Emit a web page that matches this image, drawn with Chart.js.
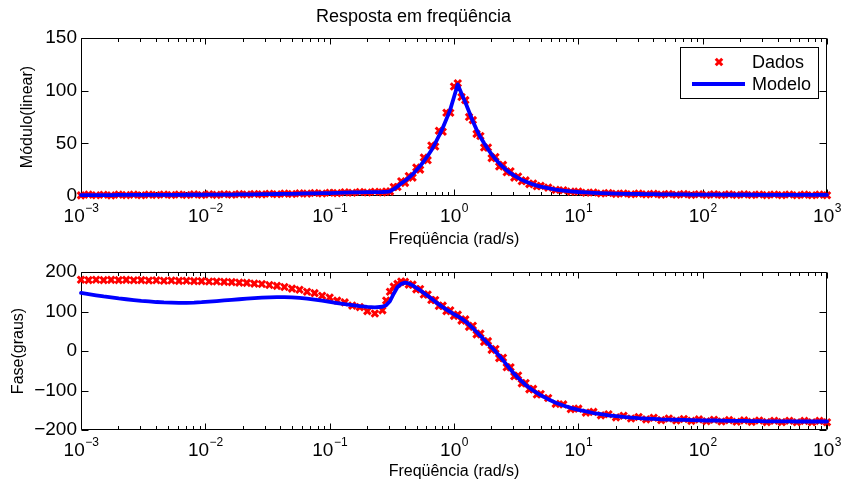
<!DOCTYPE html>
<html lang="pt">
<head>
<meta charset="utf-8">
<title>Resposta em freqüência</title>
<script src="https://cdn.jsdelivr.net/npm/chart.js@4.4.1/dist/chart.umd.min.js"></script>
<style>
  html, body { margin: 0; padding: 0; background: #fff; }
  #wrap { position: relative; width: 841px; height: 486px; overflow: hidden; background: #fff; }
  #boxModulo { position: absolute; left: 0; top: 0; width: 841px; height: 252px; }
  #boxFase { position: absolute; left: 0; top: 252px; width: 841px; height: 234px; }
  canvas { display: block; }
</style>
</head>
<body>
<div id="wrap">
  <div id="boxModulo"><canvas id="modulo" width="841" height="252"></canvas></div>
  <div id="boxFase"><canvas id="fase" width="841" height="234"></canvas></div>
</div>
<script>
// Frequências (rad/s): grade logarítmica, mais densa perto da ressonância
const freq = [
  0.001, 0.00115, 0.001322, 0.00152, 0.001748, 0.002009, 0.00231, 0.002656, 0.003054, 0.003511,
  0.004037, 0.004642, 0.005337, 0.006136, 0.007055, 0.008111, 0.009326, 0.01072, 0.01233, 0.01417,
  0.0163, 0.01874, 0.02154, 0.02477, 0.02848, 0.03275, 0.03765, 0.04329, 0.04977, 0.05722,
  0.06579, 0.07565, 0.08697, 0.1, 0.115, 0.1322, 0.152, 0.1748, 0.2009, 0.231, 0.2656,
  0.2848, 0.3054, 0.3275, 0.3511, 0.3765, 0.4037, 0.4329, 0.4642, 0.4977, 0.5337,
  0.5722, 0.6136, 0.6579, 0.7055, 0.7565, 0.8111, 0.8697, 0.9326, 1.0, 1.072,
  1.15, 1.233, 1.322, 1.417, 1.52, 1.63, 1.748, 1.874, 2.009, 2.154,
  2.31, 2.477, 2.656, 2.848, 3.054, 3.275, 3.511, 3.765, 4.037, 4.329,
  4.642, 4.977,
  5.722, 6.579, 7.565, 8.697, 10, 11.5, 13.22, 15.2, 17.48, 20.09,
  23.1, 26.56, 30.54, 35.11, 40.37, 46.42, 53.37, 61.36, 70.55, 81.11,
  93.26, 107.2, 123.3, 141.7, 163, 187.4, 215.4, 247.7, 284.8, 327.5,
  376.5, 432.9, 497.7, 572.2, 657.9, 756.5, 869.7, 1000
];

// Módulo (linear)
const moduloDados = [
  0.6, 1.3, 0.7, 1.2, 0.6, 1.3, 0.8, 1.3, 0.7, 1.3,
  0.9, 1.4, 0.9, 1.4, 1.0, 1.5, 1.0, 1.6, 1.1, 1.7,
  1.2, 1.8, 1.4, 1.9, 1.5, 2.1, 1.7, 2.3, 1.9, 2.5,
  2.2, 2.8, 2.4, 3.1, 2.7, 3.5, 3.1, 3.8, 3.3, 4.0, 3.5,
  4.3, 4.2, 8.5, 8.5, 14, 12.5, 19, 17.5, 27, 25,
  36.5, 34, 48, 47, 62, 61, 79, 79, 104, 107,
  94, 91, 75, 72, 59, 57, 46, 46, 36, 37,
  28, 29.5, 22.5, 23.5, 17.5, 18.5, 14, 14.8, 11.3, 11.9,
  9.2, 9.6,
  7.9, 5.8, 5.5, 4.1, 4.1, 3.1, 3.3, 2.4, 2.8, 2.0,
  2.4, 1.7, 2.2, 1.5, 2.0, 1.3, 1.9, 1.2, 1.8, 1.1,
  1.7, 1.0, 1.6, 1.0, 1.5, 0.9, 1.5, 0.9, 1.4, 0.8,
  1.4, 0.8, 1.4, 0.7, 1.3, 0.7, 1.3, 0.7
];
const moduloModelo = [
  0.9, 0.9, 0.9, 0.9, 0.9, 1.0, 1.0, 1.0, 1.0, 1.0,
  1.1, 1.1, 1.1, 1.1, 1.2, 1.2, 1.2, 1.3, 1.3, 1.4,
  1.4, 1.5, 1.6, 1.6, 1.7, 1.8, 1.9, 2.0, 2.1, 2.2,
  2.4, 2.5, 2.7, 2.8, 3.0, 3.2, 3.4, 3.5, 3.6, 3.7, 3.8,
  4.0, 4.5, 6.5, 9, 12, 14.5, 17.3, 20.5, 24.5, 28.5,
  33, 38, 43.5, 50, 57, 64.5, 73, 82, 94, 106,
  97, 89, 80, 71, 63, 56, 50, 44.5, 39.5, 35,
  31, 27.5, 24.5, 21.7, 19.3, 17.2, 15.3, 13.7, 12.3, 11,
  9.9, 8.9,
  7.4, 6.1, 5.1, 4.4, 3.8, 3.4, 3.0, 2.7, 2.5, 2.3,
  2.1, 2.0, 1.9, 1.8, 1.7, 1.6, 1.6, 1.5, 1.5, 1.4,
  1.4, 1.3, 1.3, 1.3, 1.2, 1.2, 1.2, 1.2, 1.1, 1.1,
  1.1, 1.1, 1.1, 1.0, 1.0, 1.0, 1.0, 1.0
];

// Fase (graus)
const faseDados = [
  180.5, 179.5, 180.5, 179.5, 180, 179.5, 180, 179, 179.5, 178.5,
  179, 178, 178.5, 177.5, 178, 177, 177, 176, 176, 175,
  174.5, 173, 172.5, 170.5, 169.5, 167, 165, 162, 158, 155,
  150, 146.5, 140, 135.5, 127.5, 123, 115, 111, 101, 95, 103,
  128, 150, 163, 170, 176, 175, 168, 168, 156, 157,
  143, 143, 129, 129, 114, 115, 101, 103, 89, 92,
  77, 80, 61, 64, 42, 44, 23, 25, 3, 5,
  -18, -17, -41, -41, -64, -62, -82, -81, -97, -96,
  -110, -109,
  -119, -134, -135, -147, -146, -156, -154, -163, -160, -168,
  -164, -171, -167, -173, -169, -175, -171, -176, -172, -177,
  -173, -178, -174, -178.5, -175, -179, -175.5, -179.5, -176, -180,
  -176.5, -180, -176.5, -180.5, -177, -180.5, -177, -180.5
];
const faseModelo = [
  147, 144, 141, 138, 135.5, 133, 131, 129, 127, 125.5,
  124, 123, 122.5, 122, 122, 122.5, 123.5, 125, 126.5, 128,
  129.5, 131, 132.5, 134, 135, 136, 136.5, 136.5, 136, 134.5,
  132.5, 130, 127.5, 124.5, 121.5, 118.5, 116, 113.5, 111.5, 110.5, 112,
  116, 126, 145, 162, 170, 173, 171, 166, 160, 154,
  147, 140, 133, 125, 118, 111, 105, 99, 93, 88,
  82, 75, 67, 58, 48, 38, 29, 19, 9, -1,
  -12, -23, -35, -47, -58, -68, -77, -86, -93, -100,
  -106, -112,
  -122, -131, -138, -144, -149, -153, -157, -160, -163, -165,
  -167, -168.5, -170, -171, -172, -173, -173.5, -174, -174.5, -175,
  -175.5, -176, -176, -176.5, -177, -177, -177, -177.5, -177.5, -178,
  -178, -178, -178, -178.5, -178.5, -178.5, -178.5, -178.5
];

// Marcas dos eixos
const decadas = [1e-3, 1e-2, 1e-1, 1e0, 1e1, 1e2, 1e3];
const expoentes = ['\u22123', '\u22122', '\u22121', '0', '1', '2', '3'];
const ticksModulo = [0, 50, 100, 150];
const ticksFase = [-200, -100, 0, 100, 200];

const FONTE = "'Liberation Sans', Arial, Helvetica, sans-serif";
Chart.defaults.font.family = FONTE;
Chart.defaults.color = '#000';

const pontos = (ys) => freq.map((f, k) => ({ x: f, y: ys[k] }));

// Caixa dos eixos com marcas para dentro e rótulos 10^n
const eixosCaixa = {
  id: 'eixosCaixa',
  beforeDatasetsDraw(chart) {
    const { ctx, chartArea: a, scales: { x, y } } = chart;
    const L = Math.round(a.left) + 0.5, R = Math.round(a.right) - 0.5;
    const T = Math.round(a.top) + 0.5, B = Math.round(a.bottom) - 0.5;
    ctx.save();
    ctx.strokeStyle = '#000';
    ctx.lineWidth = 1;
    ctx.beginPath();
    ctx.rect(L, T, R - L, B - T);
    decadas.forEach((d, i) => {
      const px = Math.round(x.getPixelForValue(d)) + 0.5;
      ctx.moveTo(px, B); ctx.lineTo(px, B - 6);
      ctx.moveTo(px, T); ctx.lineTo(px, T + 6);
      if (i < decadas.length - 1) {
        for (let k = 2; k <= 9; k++) {
          const p = Math.round(x.getPixelForValue(d * k)) + 0.5;
          ctx.moveTo(p, B); ctx.lineTo(p, B - 3.5);
          ctx.moveTo(p, T); ctx.lineTo(p, T + 3.5);
        }
      }
    });
    y.ticks.forEach(t => {
      const py = Math.round(y.getPixelForValue(t.value)) + 0.5;
      ctx.moveTo(L, py); ctx.lineTo(L + 7, py);
      ctx.moveTo(R, py); ctx.lineTo(R - 7, py);
    });
    ctx.stroke();

    ctx.fillStyle = '#000';
    ctx.textAlign = 'left';
    ctx.textBaseline = 'alphabetic';
    decadas.forEach((d, i) => {
      const px = x.getPixelForValue(d);
      ctx.font = '19px ' + FONTE;
      const wb = ctx.measureText('10').width;
      ctx.font = '12px ' + FONTE;
      const we = ctx.measureText(expoentes[i]).width;
      const x0 = px - (wb + we) / 2;
      ctx.font = '19px ' + FONTE;
      ctx.fillText('10', x0, a.bottom + 26);
      ctx.font = '12px ' + FONTE;
      ctx.fillText(expoentes[i], x0 + wb + 0.5, a.bottom + 16);
    });
    ctx.restore();
  }
};

// Legenda em caixa no canto superior direito
const legendaCaixa = {
  id: 'legendaCaixa',
  afterDatasetsDraw(chart) {
    if (!chart.options.plugins.legendaCaixa || !chart.options.plugins.legendaCaixa.ativa) return;
    const { ctx, chartArea: a } = chart;
    const w = 138, h = 51;
    const x0 = Math.round(a.right) - 9 - w, y0 = Math.round(a.top) + 9;
    ctx.save();
    ctx.fillStyle = '#fff';
    ctx.fillRect(x0, y0, w, h);
    ctx.strokeStyle = '#000';
    ctx.lineWidth = 1;
    ctx.strokeRect(x0 + 0.5, y0 + 0.5, w, h);
    const ds = chart.data.datasets;
    const linhas = [y0 + 15, y0 + 37];
    ds.forEach((d, i) => {
      const cy = linhas[i];
      if (d.showLine === false) {
        ctx.strokeStyle = d.pointBorderColor;
        ctx.fillStyle = d.pointBackgroundColor;
        ctx.lineWidth = d.pointBorderWidth;
        Chart.helpers.drawPoint(ctx, {
          pointStyle: d.pointStyle, radius: d.pointRadius,
          borderWidth: d.pointBorderWidth, rotation: 0
        }, x0 + 39, cy);
      } else {
        ctx.strokeStyle = d.borderColor;
        ctx.lineWidth = d.borderWidth;
        ctx.beginPath();
        ctx.moveTo(x0 + 12, cy); ctx.lineTo(x0 + 65, cy);
        ctx.stroke();
      }
      ctx.fillStyle = '#000';
      ctx.font = '18px ' + FONTE;
      ctx.textAlign = 'left';
      ctx.textBaseline = 'middle';
      ctx.fillText(d.label, x0 + 72, cy + 1);
    });
    ctx.restore();
  }
};

function criarGrafico(id, opts) {
  return new Chart(document.getElementById(id), {
    type: 'scatter',
    data: {
      datasets: [
        {
          label: 'Dados',
          data: pontos(opts.dados),
          showLine: false,
          pointStyle: 'crossRot',
          pointRadius: 4.6,
          pointBorderWidth: 3,
          pointBorderColor: '#ff0000',
          pointBackgroundColor: '#ff0000',
          borderColor: '#ff0000',
          clip: false,
          order: 1
        },
        {
          label: 'Modelo',
          data: pontos(opts.modelo),
          showLine: true,
          pointRadius: 0,
          borderColor: '#0000ff',
          borderWidth: 3.8,
          borderJoinStyle: 'round',
          borderCapStyle: 'round',
          tension: 0,
          clip: false,
          order: 0
        }
      ]
    },
    options: {
      responsive: false,
      animation: false,
      devicePixelRatio: 1,
      events: [],
      layout: { padding: opts.padding },
      plugins: {
        legend: { display: false },
        tooltip: { enabled: false },
        title: opts.titulo ? {
          display: true, text: opts.titulo, color: '#000',
          font: { size: 18, weight: 'normal' },
          padding: { top: 6, bottom: 10.4 }
        } : { display: false },
        legendaCaixa: { ativa: !!opts.legenda }
      },
      scales: {
        x: {
          type: 'logarithmic',
          min: decadas[0],
          max: decadas[decadas.length - 1],
          grid: { display: false, drawTicks: false },
          border: { display: false },
          ticks: { display: false },
          afterBuildTicks: (s) => { s.ticks = decadas.map(v => ({ value: v })); },
          afterFit: (s) => { s.height = 56; },
          title: {
            display: true, text: 'Freqüência (rad/s)', color: '#000',
            font: { size: 16 }, padding: { top: 0, bottom: opts.xTituloBaixo }
          }
        },
        y: {
          type: 'linear',
          min: opts.yTicks[0],
          max: opts.yTicks[opts.yTicks.length - 1],
          grid: { display: false, drawTicks: false },
          border: { display: false },
          afterBuildTicks: (s) => { s.ticks = opts.yTicks.map(v => ({ value: v })); },
          afterFit: (s) => { s.width = 81; },
          ticks: {
            color: '#000', padding: 4, font: { size: 19 },
            callback: (v) => String(v).replace('-', '\u2212')
          },
          title: {
            display: true, text: opts.yTitulo, color: '#000',
            font: { size: 16 }, padding: { top: opts.yTituloTopo, bottom: 0 }
          }
        }
      }
    },
    plugins: [eixosCaixa, legendaCaixa]
  });
}

criarGrafico('modulo', {
  dados: moduloDados, modelo: moduloModelo, yTicks: ticksModulo,
  yTitulo: 'Módulo(linear)', yTituloTopo: 18, titulo: 'Resposta em freqüência',
  legenda: true, xTituloBaixo: 2.4,
  padding: { left: 0, right: 14, top: 0, bottom: 0 }
});

criarGrafico('fase', {
  dados: faseDados, modelo: faseModelo, yTicks: ticksFase,
  yTitulo: 'Fase(graus)', yTituloTopo: 8.5, titulo: null,
  legenda: false, xTituloBaixo: 4.4,
  padding: { left: 0, right: 14, top: 20, bottom: 0 }
});
</script>
</body>
</html>
